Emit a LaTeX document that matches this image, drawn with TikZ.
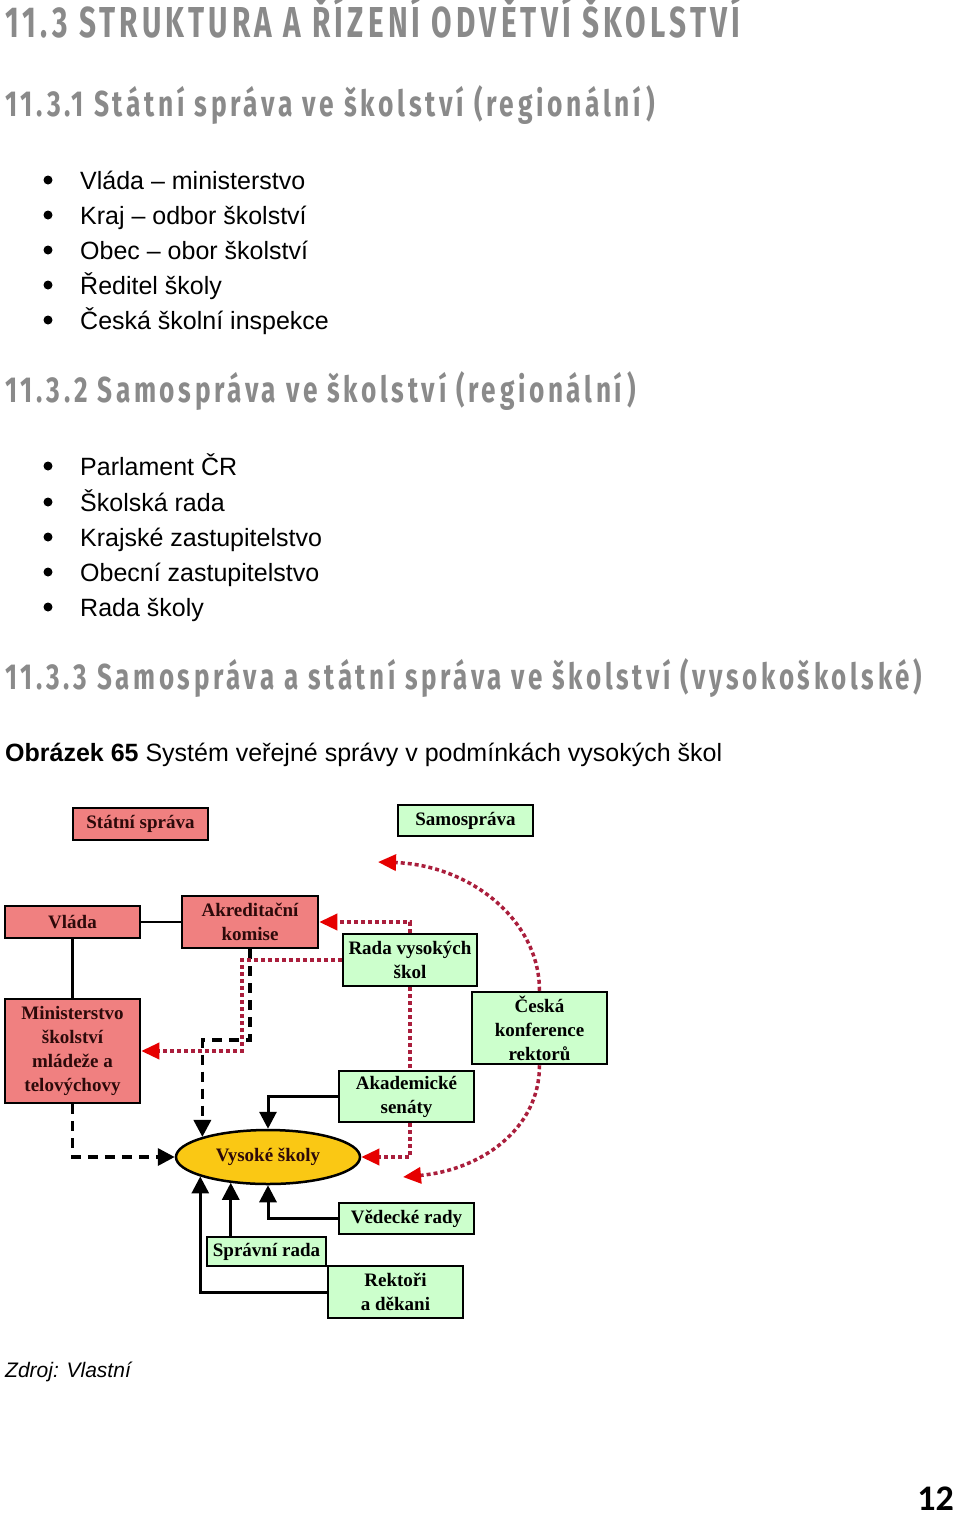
\documentclass[tikz,border=0pt]{standalone}
\usepackage{fontspec}
\usepackage{graphicx}
\setmainfont{Liberation Sans}
\newfontfamily\headfont[LetterSpace=14]{Fira Sans}
\newfontfamily\boxfont{Liberation Serif}
\newfontfamily\numfont{Carlito}
\usetikzlibrary{shapes.geometric,arrows.meta}
\definecolor{headgray}{RGB}{138,138,138}
\definecolor{salmonc}{RGB}{240,128,128}
\definecolor{greenc}{RGB}{204,255,204}
\definecolor{goldc}{RGB}{250,200,20}
\definecolor{dotred}{RGB}{170,30,60}
\definecolor{tipred}{RGB}{230,0,0}
\definecolor{boxtext}{RGB}{45,10,10}
\newcommand{\headline}[3]{\resizebox{#1}{#2}{\headfont\bfseries\raisebox{0pt}[\fontcharht\font`T][0pt]{#3}}}
\begin{document}
\begin{tikzpicture}[x=1pt,y=-1pt,
  headtext/.style={inner sep=0pt,anchor=base west,text=headgray},
  bul/.style={circle,fill=black,inner sep=0pt,minimum size=9pt},
  btext/.style={inner sep=0pt,anchor=base west,font=\fontsize{25}{30}\selectfont},
  boxbase/.style={draw=black,line width=2.5pt,inner sep=1pt,align=center,
     font=\boxfont\bfseries\fontsize{19}{24}\selectfont},
  sbox/.style={boxbase,fill=salmonc,text=boxtext},
  gbox/.style={boxbase,fill=greenc,text=black},
  solidc/.style={draw=black,line width=3pt},
  dashc/.style={draw=black,line width=3.5pt,dash pattern=on 10pt off 7pt},
  reddot/.style={draw=dotred,line width=3.5pt,dash pattern=on 4pt off 3pt},
  btip/.style={-{Triangle[length=17pt,width=17pt]}},
  rtip/.style={-{Triangle[length=18pt,width=16pt,color=tipred]}}
]
\fill[white] (0,0) rectangle (960,1518);
\useasboundingbox (0,0) rectangle (960,1518);

% headings
\node[headtext] (h0) at (5,37) {\headline{735pt}{30pt}{11.3 STRUKTURA A ŘÍZENÍ ODVĚTVÍ ŠKOLSTVÍ}};
\node[headtext] (h1) at (5,116) {\headline{650pt}{25pt}{11.3.1 Státní správa ve školství (regionální)}};
\node[headtext] (h2) at (5,402) {\headline{631pt}{25pt}{11.3.2 Samospráva ve školství (regionální)}};
\node[headtext] (h3) at (5,689) {\headline{917pt}{25pt}{11.3.3 Samospráva a státní správa ve školství (vysokoškolské)}};

% list 1
\node[bul] (b11) at (48,180) {};
\node[btext] (t11) at (80,189) {Vláda – ministerstvo};
\node[bul] (b12) at (48,215) {};
\node[btext] (t12) at (80,224) {Kraj – odbor školství};
\node[bul] (b13) at (48,250) {};
\node[btext] (t13) at (80,259) {Obec – obor školství};
\node[bul] (b14) at (48,285) {};
\node[btext] (t14) at (80,294) {Ředitel školy};
\node[bul] (b15) at (48,320) {};
\node[btext] (t15) at (80,329) {Česká školní inspekce};

% list 2
\node[bul] (b21) at (48,466) {};
\node[btext] (t21) at (80,475) {Parlament ČR};
\node[bul] (b22) at (48,502) {};
\node[btext] (t22) at (80,511) {Školská rada};
\node[bul] (b23) at (48,537) {};
\node[btext] (t23) at (80,546) {Krajské zastupitelstvo};
\node[bul] (b24) at (48,572) {};
\node[btext] (t24) at (80,581) {Obecní zastupitelstvo};
\node[bul] (b25) at (48,607) {};
\node[btext] (t25) at (80,616) {Rada školy};

% caption
\node[btext] (cap) at (5,761) {\textbf{Obrázek 65} Systém veřejné správy v podmínkách vysokých škol};
\node[btext,font=\itshape\fontsize{21}{25}\selectfont] (src) at (5,1377) {Zdroj: Vlastní};
\node[inner sep=0pt,anchor=base east,font=\numfont\bfseries\fontsize{36}{40}\selectfont] (pg) at (954,1510) {12};

% diagram boxes
\node[sbox,minimum width=135pt,minimum height=32pt] (statni) at (140.5,824) {Státní správa};
\node[gbox,minimum width=135pt,minimum height=31pt] (samo) at (465.5,820.5) {Samospráva};
\node[sbox,minimum width=135pt,minimum height=32pt] (vlada) at (72.5,922) {Vláda};
\node[sbox,minimum width=136pt,minimum height=52pt] (akred) at (250,922) {Akreditační\\komise};
\node[gbox,minimum width=134pt,minimum height=52pt] (rada) at (410,960) {Rada vysokých\\škol};
\node[gbox,minimum width=135pt,minimum height=72pt] (ckr) at (539.5,1028) {Česká\\konference\\rektorů};
\node[sbox,minimum width=135pt,minimum height=104pt] (mini) at (72.5,1051) {Ministerstvo\\školství\\mládeže a\\telovýchovy};
\node[gbox,minimum width=135pt,minimum height=51pt] (akad) at (406.5,1096.5) {Akademické\\senáty};
\node[boxbase,ellipse,fill=goldc,text=boxtext,minimum width=184pt,minimum height=54pt,inner sep=0pt] (vs) at (268,1157) {Vysoké školy};
\node[gbox,minimum width=135pt,minimum height=31pt] (ved) at (406.5,1218.5) {Vědecké rady};
\node[gbox,minimum width=119pt,minimum height=29pt] (spr) at (266.5,1251.5) {Správní rada};
\node[gbox,minimum width=135pt,minimum height=52pt] (rek) at (395.5,1292) {Rektoři\\a děkani};

% helper coordinates
\coordinate (kb) at (250,1040);
\coordinate (r1) at (242,960);
\coordinate (c1) at (378,862);
\coordinate (c2) at (403,1177);
\coordinate (sprtop) at ([xshift=25pt]spr.north west);

% black connectors
\draw[solidc,line width=2pt] (vlada.east) -- (akred.west);
\draw[solidc] (vlada.south) -- (mini.north);
\draw[dashc,btip] (mini.south) |- (vs.west);
\draw[dashc,btip] (akred.south) -- (kb) -| (vs.163.6);
\draw[solidc,btip] (akad.west) -| (vs.north);
\draw[solidc,btip] (ved.west) -| (vs.south);
\draw[solidc,btip] (sprtop) -- (sprtop |- vs.214.6);
\draw[solidc,btip] (rek.west) -| (vs.196.4);

% red dotted connectors
\draw[reddot,rtip] (rada.west) -- (r1) |- (mini.east);
\draw[reddot,rtip] (rada.north) |- (akred.east);
\draw[reddot] (rada.south) -- (rada.south |- akad.north);
\draw[reddot,rtip] (akad.south -| rada.south) |- (vs.east);
\draw[reddot,rtip] (ckr.north) .. controls (539.5,920) and (470,865) .. (c1);
\draw[reddot,rtip] (ckr.south) .. controls (539.5,1130) and (480,1170) .. (c2);
\end{tikzpicture}
\end{document}
